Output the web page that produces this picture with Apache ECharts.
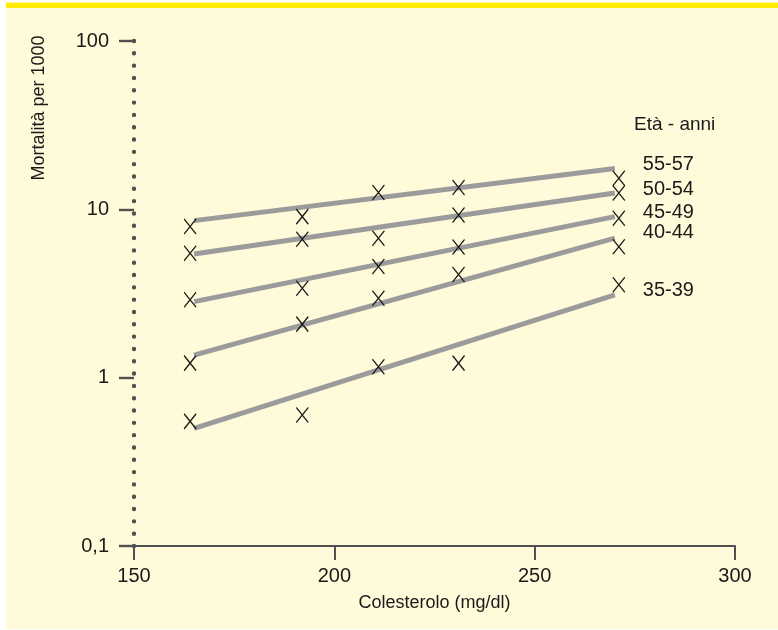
<!DOCTYPE html>
<html>
<head>
<meta charset="utf-8">
<script src="https://cdn.jsdelivr.net/npm/echarts@6/dist/echarts.min.js"></script>
<style>
html,body{margin:0;padding:0;background:#ffffff;}
#bg{position:absolute;left:6px;top:8px;width:772px;height:621px;background:#FFFAD9;}
#bar{position:absolute;left:6px;top:2px;width:772px;height:6px;background:#FFEE00;border-top:1px solid #FFF3A0;box-sizing:border-box;}
#chart{position:absolute;left:0;top:0;width:778px;height:630px;}
</style>
</head>
<body>
<div id="bg"></div>
<div id="bar"></div>
<div id="chart"></div>
<script>
// Data
const xTicks = [150, 200, 250, 300];
const yTicks = [0.1, 1, 10, 100];
const ageGroups = ['55-57', '50-54', '45-49', '40-44', '35-39'];
const cholesterol = [164, 192, 211, 231, 271];
const obs_55_57 = [7.9, 9.05, 12.6, 13.5, 15.3];
const obs_50_54 = [5.48, 6.64, 6.73, 9.26, 12.5];
const obs_45_49 = [2.9, 3.40, 4.57, 5.98, 8.85];
const obs_40_44 = [1.22, 2.08, 2.96, 4.10, 6.0];
const obs_35_39 = [0.55, 0.60, 1.16, 1.22, 3.56];
const fitX = [165, 270];
const fit_55_57 = [8.57, 17.5];
const fit_50_54 = [5.43, 12.5];
const fit_45_49 = [2.83, 9.05];
const fit_40_44 = [1.36, 6.74];
const fit_35_39 = [0.50, 3.10];

const obsSets = [obs_55_57, obs_50_54, obs_45_49, obs_40_44, obs_35_39];
const fitSets = [fit_55_57, fit_50_54, fit_45_49, fit_40_44, fit_35_39];
const labelOffsets = [[0,-4],[0,-4],[0,-4],[0,-6],[0,-4]];

const FONT = "'Liberation Sans', Arial, Helvetica, sans-serif";
const TXT = '#1A1A1A';
const AX = '#505050';

const series = [];
ageGroups.forEach((g, i) => {
  series.push({
    name: g,
    type: 'line',
    data: fitX.map((x, k) => [x, fitSets[i][k]]),
    symbol: 'none',
    lineStyle: { color: '#9B9B9B', width: 5, cap: 'butt' },
    endLabel: {
      show: true,
      formatter: g,
      distance: 28,
      offset: labelOffsets[i],
      fontSize: 20,
      fontFamily: FONT,
      color: TXT
    },
    silent: true,
    z: 2
  });
  series.push({
    name: g + ' obs',
    type: 'scatter',
    data: cholesterol.map((x, k) => [x, obsSets[i][k]]),
    symbol: 'path://M0,0L12,15M12,0L0,15',
    symbolSize: [12, 15],
    itemStyle: { color: 'none', borderColor: '#1A1A1A', borderWidth: 1.3, opacity: 1 },
    silent: true,
    z: 3
  });
});

const chart = echarts.init(document.getElementById('chart'), null, { renderer: 'canvas' });
chart.setOption({
  animation: false,
  backgroundColor: 'transparent',
  grid: { left: 134, right: 43, top: 41, bottom: 84, containLabel: false },
  xAxis: {
    type: 'value',
    min: 150, max: 300, interval: 50,
    name: 'Colesterolo (mg/dl)',
    nameLocation: 'middle',
    nameGap: 48,
    nameTextStyle: { fontSize: 18, fontFamily: FONT, color: TXT },
    axisLine: { show: true, lineStyle: { color: AX, width: 2 } },
    axisTick: { show: true, length: 14, lineStyle: { color: AX, width: 2 } },
    axisLabel: { fontSize: 20, fontFamily: FONT, color: TXT, margin: 20 },
    splitLine: { show: false }
  },
  yAxis: {
    type: 'log',
    logBase: 10,
    min: 0.1, max: 100,
    axisLine: { show: true, lineStyle: { color: AX, width: 4.4, type: [0, 505/41], cap: 'round' } },
    axisTick: { show: true, length: 15, lineStyle: { color: AX, width: 2.4 } },
    axisLabel: {
      fontSize: 20, fontFamily: FONT, color: TXT, margin: 25,
      formatter: v => String(v).replace('.', ',')
    },
    splitLine: { show: false }
  },
  graphic: [
    {
      type: 'text',
      x: 39, y: 108,
      rotation: Math.PI / 2,
      style: {
        text: 'Mortalità per 1000',
        fontSize: 18, fontFamily: FONT, fill: TXT,
        align: 'center', verticalAlign: 'middle'
      }
    },
    {
      type: 'text',
      left: 634, top: 115,
      style: {
        text: 'Età - anni',
        fontSize: 19, fontFamily: FONT, fill: TXT
      }
    }
  ],
  series: series
});
</script>
</body>
</html>
